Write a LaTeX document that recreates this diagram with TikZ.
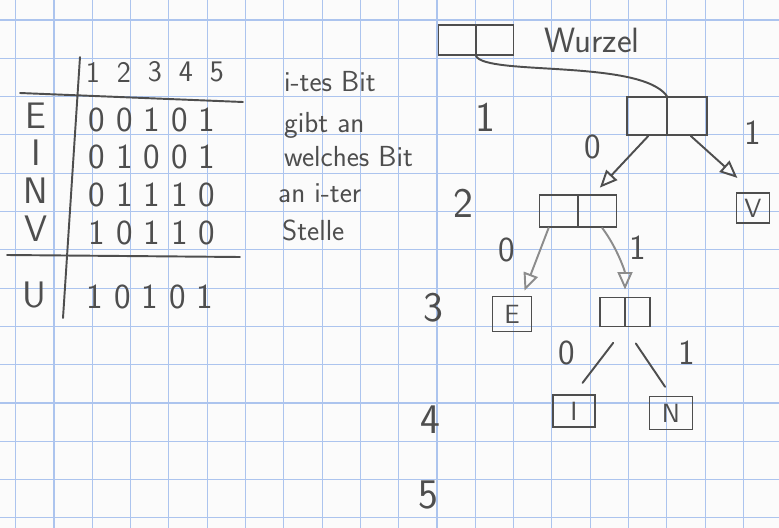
\documentclass[tikz,border=0pt]{standalone}
\usepackage{tikz}
\usetikzlibrary{arrows.meta}
\usepackage{xcolor}
\definecolor{pencil}{RGB}{78,78,78}
\definecolor{pencillight}{RGB}{140,140,140}
\definecolor{gridblue}{RGB}{172,196,238}
\definecolor{paper}{RGB}{251,251,251}
\tikzset{
  pen/.style={draw=pencil,line width=1.1pt},
  ptrbox/.style={pen,inner sep=0pt,
    path picture={\draw[pen] (path picture bounding box.north) -- (path picture bounding box.south);}},
  leafbox/.style={pen,inner sep=0pt,text=pencil,font=\sffamily\fontsize{15}{18}\selectfont},
  hdrdigit/.style={text=pencil,font=\sffamily\fontsize{17}{19}\selectfont},
  bitrow/.style={text=pencil,font=\sffamily\fontsize{20}{24}\selectfont},
  rowlbl/.style={text=pencil,font=\sffamily\fontsize{21}{24}\selectfont},
  note/.style={anchor=west,text=pencil,font=\sffamily\fontsize{16.5}{18}\selectfont},
  level/.style={text=pencil,font=\sffamily\fontsize{24}{28}\selectfont},
  edgelbl/.style={text=pencil,font=\sffamily\fontsize{20}{24}\selectfont},
  treeedge/.style={pen,-{Triangle[open,length=3.5mm,width=3mm]}},
}
\begin{document}
\begin{tikzpicture}[x=0.02cm,y=-0.02cm,line cap=round]
\fill[paper] (0,0) rectangle (779,528);
\useasboundingbox (0,0) rectangle (779,528);
% squared paper
\foreach \i in {0,...,19}
  \draw[gridblue,line width=0.6pt] ({15.7+38.3*\i},0) -- ++(0,528);
\foreach \j in {0,...,13}
  \draw[gridblue,line width=0.6pt] (0,{20+38.3*\j}) -- ++(779,0);

% code table
\draw[pen] (80,57) -- (63,318);
\draw[pen] (20,93) -- (243,102);
\draw[pen] (7,255) -- (240,257);
\foreach \d in {1,...,5}
  \node[hdrdigit] (hdr\d) at ({62+31*\d},72) {\d};
\foreach \lbl/\bits/\y in {E/0 0 1 0 1/120, I/0 1 0 0 1/157, N/0 1 1 1 0/195, V/1 0 1 1 0/233} {
  \node[rowlbl] (lbl\lbl) at (36,{\y-4}) {\lbl};
  \node[bitrow] (bits\lbl) at (152,\y) {\bits};
}
\node[rowlbl] (lblU) at (34,295) {U};
\node[bitrow] (bitsU) at (150,297) {1 0 1 0 1};
\foreach \txt/\x/\y [count=\k] in {i-tes Bit/278/82, gibt an/278/125, welches Bit/278/157, an i-ter/272/193, Stelle/276/230}
  \node[note] (note\k) at (\x,\y) {\txt};

% levels
\foreach \n/\x/\y in {1/485/117, 2/463/203, 3/433/308, 4/430/420, 5/428/495}
  \node[level] (lvl\n) at (\x,\y) {\n};

% trie
\node[ptrbox,minimum width=1.5cm,minimum height=0.6cm] (root) at (476,40) {};
\node[note,font=\sffamily\fontsize{20}{22}\selectfont] (wurzel) at (538,40) {Wurzel};
\node[ptrbox,minimum width=1.6cm,minimum height=0.76cm] (n1) at (667,116) {};
\node[leafbox,minimum width=0.66cm,minimum height=0.6cm] (vleaf) at (753,208) {V};
\node[ptrbox,minimum width=1.54cm,minimum height=0.64cm] (n2) at (578,211) {};
\node[leafbox,minimum width=0.78cm,minimum height=0.7cm] (eleaf) at (512,314) {E};
\node[ptrbox,minimum width=1.0cm,minimum height=0.58cm] (n3) at (625,312) {};
\node[leafbox,minimum width=0.84cm,minimum height=0.64cm] (ileaf) at (574,411) {I};
\node[leafbox,minimum width=0.86cm,minimum height=0.66cm] (nleaf) at (671,413) {N};

\draw[pen] (root.south) .. controls +(10,20) and +(-27,-37) .. (n1.north);
\draw[treeedge,shorten >=5pt] (n1) -- (n2);
\draw[treeedge,shorten >=12pt] (n1.-40) -- (vleaf.north);
\draw[treeedge,draw=pencillight,shorten >=3pt] (n2.-150) -- (eleaf.60);
\draw[treeedge,draw=pencillight,shorten >=4pt] (n2.-35) .. controls +(15,20) and +(0,-25) .. (n3.north);
\draw[pen,shorten <=11pt,shorten >=8pt] (n3.south) -- (ileaf.north);
\draw[pen,shorten <=11pt,shorten >=6pt] (n3.south) -- (nleaf.north);

\node[edgelbl] (e10) at (593,147) {0};
\node[edgelbl] (e11) at (753,133) {1};
\node[edgelbl] (e20) at (507,250) {0};
\node[edgelbl] (e21) at (638,248) {1};
\node[edgelbl] (e30) at (567,353) {0};
\node[edgelbl] (e31) at (687,353) {1};
\end{tikzpicture}
\end{document}
